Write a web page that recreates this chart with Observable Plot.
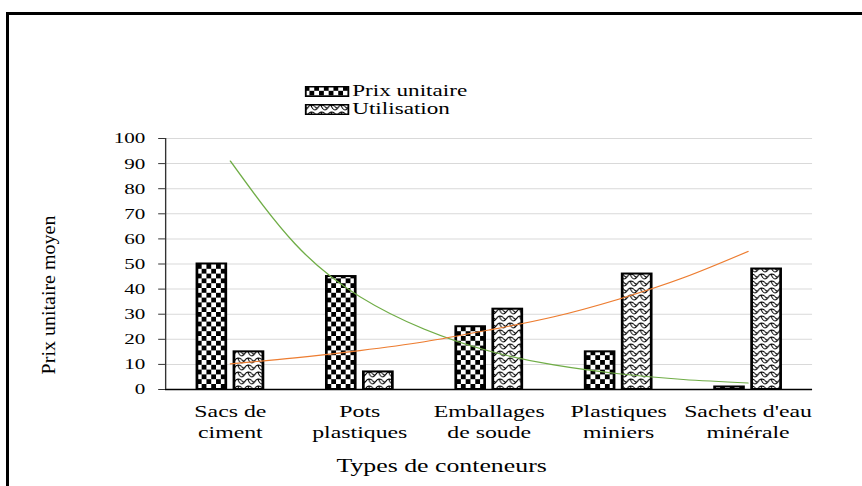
<!DOCTYPE html>
<html><head><meta charset="utf-8">
<script src="https://cdn.jsdelivr.net/npm/d3@7"></script>
<script src="https://cdn.jsdelivr.net/npm/@observablehq/plot@0.6"></script>
<style>
html,body{margin:0;padding:0;background:#fff}
body{width:862px;height:486px;overflow:hidden;position:relative;font-family:"Liberation Serif","Times New Roman",serif}
#frame{position:absolute;left:6px;top:12px;width:920px;height:540px;border:3px solid #000;box-sizing:border-box}
#wrap{position:absolute;left:0;top:0;width:634px;height:486px;transform:scaleX(1.36);transform-origin:0 0}
#chart{position:absolute;left:0;top:0}
#legend{position:absolute;left:224px;top:82px;font-size:17px;color:#000}
.row{display:flex;align-items:center;height:18px;line-height:18px;white-space:nowrap}
.row svg{margin-right:2px}
#defs{position:absolute;width:0;height:0}
</style></head>
<body>
<svg id="defs" width="0" height="0">
  <defs>
    <pattern id="checker" patternUnits="userSpaceOnUse" width="7.06" height="9.6">
      <rect width="7.06" height="9.6" fill="#fff"/>
      <rect x="0" y="0" width="3.53" height="4.8" fill="#000"/>
      <rect x="3.53" y="4.8" width="3.53" height="4.8" fill="#000"/>
    </pattern>
    <pattern id="shingle" patternUnits="userSpaceOnUse" width="7.4" height="7">
      <rect width="7.4" height="7" fill="#fff"/>
      <path d="M0,6 C2.2,6 2.6,1.2 4.6,1 C5.8,0.9 6.8,1.6 7.4,2.4 M0,2.4 C0.6,3.4 1.2,4.2 2.2,4.6 M4.6,1 C5.2,3.5 6.4,5.8 7.4,6" fill="none" stroke="#000" stroke-width="0.9"/>
    </pattern>
  </defs>
</svg>
<div id="frame"></div>
<div id="wrap">
  <div id="chart"></div>
  <div id="legend">
    <div class="row"><svg width="33" height="11"><rect x="0.75" y="0.75" width="31.5" height="9.5" fill="url(#checker)" stroke="#000" stroke-width="1.5"/></svg><span>Prix unitaire</span></div>
    <div class="row"><svg width="33" height="11"><rect x="0.75" y="0.75" width="31.5" height="9.5" fill="url(#shingle)" stroke="#000" stroke-width="1.5"/></svg><span>Utilisation</span></div>
  </div>
</div>
<script>
// ---- data ----
const categories = ["Sacs de\nciment", "Pots\nplastiques", "Emballages\nde soude", "Plastiques\nminiers", "Sachets d'eau\nminérale"];
const categoryPositions = [1, 2, 3, 4, 5];
const prixUnitaire = [50, 45, 25, 15, 1];
const utilisation = [15, 7, 32, 46, 48];
// trend curves (at category positions and half-way points)
const trendPositions = [1, 1.5, 2, 2.5, 3, 3.5, 4, 4.5, 5];
const trendPrix = [91, 58, 37, 24, 15.3, 9.8, 6.3, 4.0, 2.6];
const trendUtilisation = [10.2, 12.6, 15.5, 19, 23.7, 29, 36, 44.5, 55];
const yTicks = [0, 10, 20, 30, 40, 50, 60, 70, 80, 90, 100];
const xTitle = "Types de conteneurs";
const yTitle = "Prix unitaire moyen";

const idx = d3.range(categories.length);
const trendIdx = d3.range(trendPositions.length);

const plot = Plot.plot({
  width: 634,
  height: 486,
  marginLeft: 121.3,
  marginRight: 36.9,
  marginTop: 138,
  marginBottom: 97,
  style: {fontFamily: "'Liberation Serif', 'Times New Roman', serif", color: "#000", background: "transparent"},
  x: {domain: [0.5, 5.5], axis: null},
  y: {domain: [0, 100], axis: null},
  marks: [
    Plot.gridY(yTicks, {stroke: "#d9d9d9", strokeOpacity: 1, strokeWidth: 1}),
    Plot.rectY(idx, {
      x1: i => categoryPositions[i] - 0.253, x2: i => categoryPositions[i] - 0.03,
      y1: 0, y2: i => prixUnitaire[i],
      fill: "url(#checker)", stroke: "#000", strokeWidth: 2
    }),
    Plot.rectY(idx, {
      x1: i => categoryPositions[i] + 0.033, x2: i => categoryPositions[i] + 0.257,
      y1: 0, y2: i => utilisation[i],
      fill: "url(#shingle)", stroke: "#000", strokeWidth: 2
    }),
    Plot.line(trendIdx, {x: i => trendPositions[i], y: i => trendPrix[i], stroke: "#70ad47", strokeWidth: 1.1, curve: "natural"}),
    Plot.line(trendIdx, {x: i => trendPositions[i], y: i => trendUtilisation[i], stroke: "#ed7d31", strokeWidth: 1.1, curve: "natural"}),
    Plot.ruleY([0], {stroke: "#000", strokeWidth: 1.5}),
    Plot.ruleX([0.5], {stroke: "#333", strokeWidth: 1}),
    Plot.axisY({ticks: yTicks, tickSize: 5, tickPadding: 10, fontSize: 15.5, label: null, stroke: "#333"}),
    Plot.axisX({ticks: categoryPositions, tickFormat: d => categories[d - 1], tickSize: 0, tickPadding: 13, fontSize: 17.5, lineHeight: 1.2, label: null}),
    Plot.text([xTitle], {frameAnchor: "bottom", dy: 82, dx: -35, fontSize: 19}),
    Plot.text([yTitle], {frameAnchor: "left", textAnchor: "middle", lineAnchor: "middle", rotate: -90, dx: -86, dy: 31, fontSize: 20, className: "ytitle"})
  ]
});
document.getElementById("chart").appendChild(plot);
plot.querySelectorAll(".ytitle text").forEach(t => {
  t.setAttribute("transform", (t.getAttribute("transform") || "") + " scale(1,0.7)");
});
</script>
</body></html>
